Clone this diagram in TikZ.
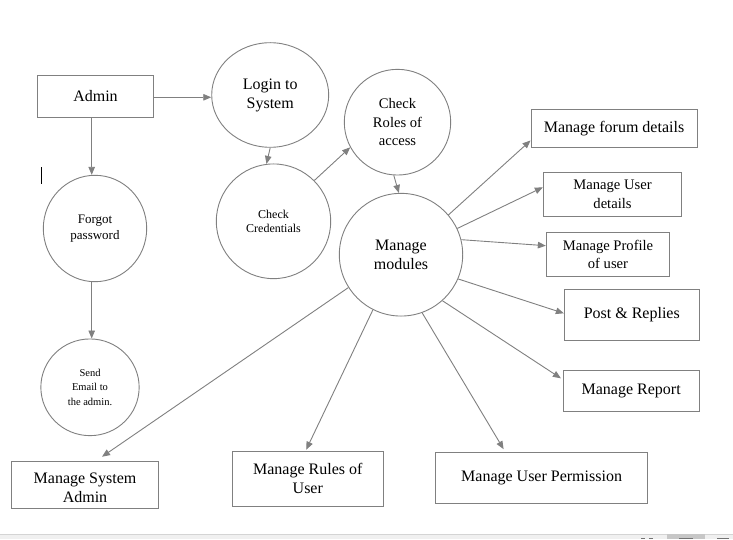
\documentclass[tikz,border=0pt]{standalone}
\usepackage{fontspec}
\setmainfont{LiberationSerif}[Extension=.ttf,UprightFont=*-Regular,BoldFont=*-Bold]
\usetikzlibrary{shapes.geometric,arrows.meta,calc}
\definecolor{lg}{RGB}{128,128,128}
\definecolor{barfill}{RGB}{240,240,240}
\definecolor{barline}{RGB}{212,212,212}
\tikzset{
  boxnode/.style={draw=lg,line width=0.9pt,rectangle,inner sep=0pt,align=center,text=black},
  bubble/.style={draw=lg,line width=0.9pt,ellipse,inner sep=0pt,align=center,text=black},
  conn/.style={draw=lg,line width=0.9pt,-{Triangle[length=8pt,width=6.5pt]}},
  big/.style={font=\rmfamily\fontsize{16}{19}\selectfont},
  mid/.style={font=\rmfamily\fontsize{14.6}{18.2}\selectfont},
  small/.style={font=\rmfamily\fontsize{13}{15.7}\selectfont},
  smaller/.style={font=\rmfamily\fontsize{12}{14.6}\selectfont},
  tiny/.style={font=\rmfamily\fontsize{10.5}{14.5}\selectfont},
}
\begin{document}
\begin{tikzpicture}[x=1pt,y=1pt]
\useasboundingbox (0,0) rectangle (733,539);
\fill[white] (0,0) rectangle (733,539);
% nodes
\node[boxnode,big,minimum width=116.4,minimum height=42] (admin) at (95.5,442.7) {Admin};
\node[bubble,big,minimum width=117,minimum height=104.6] (login) at (270.2,444) {Login to\\System};
\node[bubble,mid,minimum width=106.4,minimum height=105.7] (roles) at (397.5,416.8) {Check\\Roles of\\access};
\node[bubble,smaller,minimum width=114.4,minimum height=114.7] (cred) at (273.5,317.7) {Check\\Credentials};
\node[bubble,small,minimum width=103.4,minimum height=106.4] (forgot) at (95,310.5) {Forgot\\password};
\node[bubble,big,minimum width=123.4,minimum height=122.7] (mm) at (401,284.3) {Manage\\modules};
\node[bubble,tiny,minimum width=98.3,minimum height=96.7] (send) at (90,151.7) {Send\\Email to\\the admin.};
\node[boxnode,big,minimum width=166,minimum height=38] (forum) at (614,410.7) {Manage forum details};
\node[boxnode,mid,minimum width=138.4,minimum height=44] (udet) at (612.5,344.7) {Manage User\\details};
\node[boxnode,mid,minimum width=123.4,minimum height=44.4] (prof) at (608,284.5) {Manage Profile\\of user};
\node[boxnode,big,minimum width=135,minimum height=50.7] (post) at (631.8,224.3) {Post \& Replies};
\node[boxnode,big,minimum width=135.7,minimum height=41] (report) at (631.2,148.2) {Manage Report};
\node[boxnode,big,minimum width=146.6,minimum height=46.6] (sysadm) at (85,54) {\rule{0pt}{16pt}Manage System\\Admin};
\node[boxnode,big,minimum width=151,minimum height=54.3] (rules) at (307.8,60.2) {Manage Rules of\\User};
\node[boxnode,big,minimum width=211.8,minimum height=51] (perm) at (541.6,61.2) {Manage User Permission};
% connectors
\draw[conn] ([yshift=-1]admin.east) -- ([yshift=-1]admin.east -| login.west);
\draw[conn] ([xshift=-3.8]admin.south) -- ([xshift=-3.8]admin.south |- forgot.north);
\draw[conn] ([xshift=-3.3]forgot.south) -- ([xshift=1.7]send.north);
\draw[conn] (login.south) -- (cred.97);
\draw[conn] (cred.45) -- (roles.208);
\draw[conn] (roles.266) -- (mm.92);
\draw[conn] (mm.40) -- ([yshift=-12.2]forum.west);
\draw[conn] (mm.25) -- ([yshift=7]udet.west);
\draw[conn] (mm.14) -- ([yshift=8.8]prof.west);
\draw[conn] (mm.-23) -- ([yshift=1.4]post.west);
\draw[conn] (mm.-48) -- ([xshift=-2,yshift=12.5]report.west);
\draw[conn] (mm.212) -- ([xshift=17,yshift=4.5]sysadm.north);
\draw[conn] (mm.243) -- ([xshift=-1.6,yshift=1.5]rules.north);
\draw[conn] (mm.-70) -- ([xshift=-38,yshift=2.7]perm.north);
% text cursor
\draw[black,line width=1pt] (41.3,371.7) -- (41.3,354.7);
% bottom status bar
\fill[barfill] (0,0) rectangle (733,5);
\draw[barline,line width=0.8pt] (0,5) -- (733,5);
\fill[black!22] (666.7,0) rectangle (705,4.6);
\fill[black!55] (640.7,0) rectangle (645,1.4);
\fill[black!55] (649.3,0) rectangle (653.3,1.4);
\fill[black!55] (679,0) rectangle (692.7,1.4);
\fill[black!55] (716.7,0) rectangle (729,1.4);
\end{tikzpicture}
\end{document}
